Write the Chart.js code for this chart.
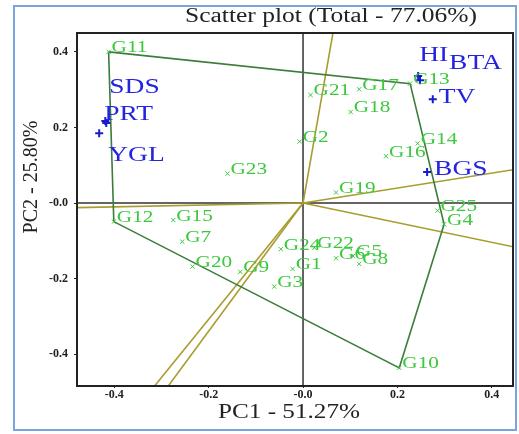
<!DOCTYPE html>
<html>
<head>
<meta charset="utf-8">
<script src="https://cdn.jsdelivr.net/npm/chart.js@4"></script>
<style>
  html, body { margin: 0; padding: 0; background: #fff; }
</style>
</head>
<body>
<canvas id="biplot" width="519" height="434"></canvas>
<script>
// genotype scores
const genoNames = ["G1","G2","G3","G4","G5","G6","G7","G8","G9","G10","G11","G12","G13",
                   "G14","G15","G16","G17","G18","G19","G20","G21","G22","G23","G24","G25"];
const genoPC1 = [-0.022,-0.007,-0.061,0.299,0.106,0.070,-0.256,0.119,-0.133,0.204,-0.412,-0.401,0.227,
                 0.243,-0.275,0.176,0.119,0.101,0.070,-0.234,0.016,0.024,-0.160,-0.047,0.285];
const genoPC2 = [-0.174,0.163,-0.221,-0.056,-0.140,-0.146,-0.102,-0.161,-0.182,-0.436,0.400,-0.049,0.316,
                 0.158,-0.045,0.124,0.301,0.241,0.028,-0.168,0.286,-0.118,0.078,-0.122,-0.020];

// trait vectors
const traitNames = ["HI","BTA","TV","BGS","SDS","PRT","YGL"];
const traitPC1 = [0.244,0.248,0.275,0.263,-0.419,-0.417,-0.432];
const traitPC2 = [0.336,0.325,0.275,0.082,0.217,0.212,0.185];

// polygon vertices and sector lines from the origin
const hullOrder = ["G11","G13","G4","G10","G12","G11"];
const rayPC1 = [0.0705,0.5,0.5,-0.5,-0.325,-0.295];
const rayPC2 = [0.5,0.099,-0.130,-0.0126,-0.5,-0.5];

const xTickValues = [-0.4,-0.2,0,0.2,0.4];
const xTickLabels = ["-0.4","-0.2","-0.0","0.2","0.4"];
const yTickValues = [-0.4,-0.2,0,0.2,0.4];
const yTickLabels = ["-0.4","-0.2","-0.0","0.2","0.4"];

// label placement (pixel offsets from marker)
const traitLabelDx = [1,29,6,7,4,-2,9];
const traitLabelDy = [-21,-17,-2,-3,-34,-9,22];
const STRETCH = 1.25;
const SERIF = "'Liberation Serif', 'DejaVu Serif', serif";

function stretchText(ctx, txt, x, y, font, color, sx, align){
  ctx.save();
  ctx.font = font;
  ctx.fillStyle = color;
  ctx.textBaseline = "middle";
  ctx.textAlign = align || "left";
  ctx.translate(x, y);
  ctx.scale(sx, 1);
  ctx.fillText(txt, 0, 0);
  ctx.restore();
}
function fitText(ctx, txt, cx, y, font, color, width){
  ctx.save();
  ctx.font = font;
  const w = ctx.measureText(txt).width;
  ctx.restore();
  stretchText(ctx, txt, cx, y, font, color, width / w, "center");
}

const axesCross = {
  id: "axesCross",
  beforeDatasetsDraw(chart){
    const {ctx, chartArea:a, scales:{x, y}} = chart;
    const px = x.getPixelForValue(0), py = y.getPixelForValue(0);
    ctx.save();
    ctx.strokeStyle = "#333";
    ctx.lineWidth = 1.5;
    ctx.beginPath();
    ctx.moveTo(px, a.top); ctx.lineTo(px, a.bottom);
    ctx.moveTo(a.left, py); ctx.lineTo(a.right, py);
    ctx.stroke();
    ctx.restore();
  }
};

const pointLabels = {
  id: "pointLabels",
  afterDatasetsDraw(chart){
    const {ctx, scales:{x, y}} = chart;
    genoNames.forEach((n, i)=>{
      const px = x.getPixelForValue(genoPC1[i]), py = y.getPixelForValue(genoPC2[i]);
      stretchText(ctx, n, px + 3, py - 4, "17px " + SERIF, "#3cc83c", STRETCH);
    });
    traitNames.forEach((n, i)=>{
      const px = x.getPixelForValue(traitPC1[i]), py = y.getPixelForValue(traitPC2[i]);
      stretchText(ctx, n, px + traitLabelDx[i], py + traitLabelDy[i], "22px " + SERIF, "#2424e0", STRETCH);
    });
  }
};

const frames = {
  id: "frames",
  beforeDraw(chart){
    const ctx = chart.ctx;
    ctx.save();
    ctx.fillStyle = "#fff";
    ctx.fillRect(0, 0, chart.width, chart.height);
    ctx.restore();
  },
  afterDraw(chart){
    const {ctx, chartArea:a} = chart;
    ctx.save();
    ctx.strokeStyle = "#222";
    ctx.lineWidth = 2;
    ctx.strokeRect(a.left, a.top, a.right - a.left, a.bottom - a.top);
    ctx.strokeStyle = "#7ba5da";
    ctx.lineWidth = 2;
    ctx.strokeRect(14, 6, 502, 424);
    ctx.restore();
    fitText(ctx, "Scatter plot (Total - 77.06%)", 331, 17, "20px " + SERIF, "#222", 292);
    fitText(ctx, "PC1 - 51.27%", 289, 413, "20px " + SERIF, "#222", 142);
    ctx.save();
    ctx.translate(32, 177);
    ctx.rotate(-Math.PI / 2);
    stretchText(ctx, "PC2 - 25.80%", 0, 0, "20px " + SERIF, "#222", 1, "center");
    ctx.restore();
  }
};

const datasets = [];
datasets.push({
  label: "genotypes",
  data: genoNames.map((n, i)=>({x: genoPC1[i], y: genoPC2[i]})),
  pointStyle: "crossRot", pointRadius: 3, borderColor: "#3cc83c", borderWidth: 1,
  showLine: false, order: 0
});
datasets.push({
  label: "traits",
  data: traitNames.map((n, i)=>({x: traitPC1[i], y: traitPC2[i]})),
  pointStyle: "cross", pointRadius: 4, borderColor: "#1a1ad0", borderWidth: 2,
  showLine: false, order: 0
});
datasets.push({
  label: "polygon",
  data: hullOrder.map(n=>{
    const i = genoNames.indexOf(n);
    return {x: genoPC1[i], y: genoPC2[i]};
  }),
  showLine: true, pointRadius: 0, borderColor: "#3b7d3b", borderWidth: 1.6, order: 1
});
rayPC1.forEach((v, i)=>{
  datasets.push({
    label: "sector" + i,
    data: [{x: 0, y: 0}, {x: v, y: rayPC2[i]}],
    showLine: true, pointRadius: 0, borderColor: "#a89d2e", borderWidth: 1.6, order: 2
  });
});

new Chart(document.getElementById("biplot").getContext("2d"), {
  type: "scatter",
  data: { datasets },
  options: {
    responsive: false,
    animation: false,
    layout: { padding: { top: 33, right: 6, left: 0, bottom: 0 } },
    plugins: { legend: { display: false }, tooltip: { enabled: false } },
    scales: {
      x: {
        type: "linear", min: -0.479, max: 0.445,
        afterFit(s){ s.height = 48; },
        afterBuildTicks(s){ s.ticks = xTickValues.map(v=>({value: v})); },
        ticks: {
          callback: (v, i)=> xTickLabels[i],
          font: { family: SERIF, size: 12, weight: "bold" },
          color: "#222", padding: 0, maxRotation: 0, autoSkip: false
        },
        grid: { drawOnChartArea: false, drawTicks: true, tickLength: 2, color: "#222" },
        border: { display: false }
      },
      y: {
        type: "linear", min: -0.484, max: 0.450,
        afterFit(s){ s.width = 77; },
        afterBuildTicks(s){ s.ticks = yTickValues.map(v=>({value: v})); },
        ticks: {
          callback: (v, i)=> yTickLabels[i],
          font: { family: SERIF, size: 12, weight: "bold" },
          color: "#222", padding: 6, autoSkip: false
        },
        grid: { drawOnChartArea: false, drawTicks: true, tickLength: 3, color: "#222" },
        border: { display: false }
      }
    }
  },
  plugins: [frames, axesCross, pointLabels]
});
</script>
</body>
</html>
